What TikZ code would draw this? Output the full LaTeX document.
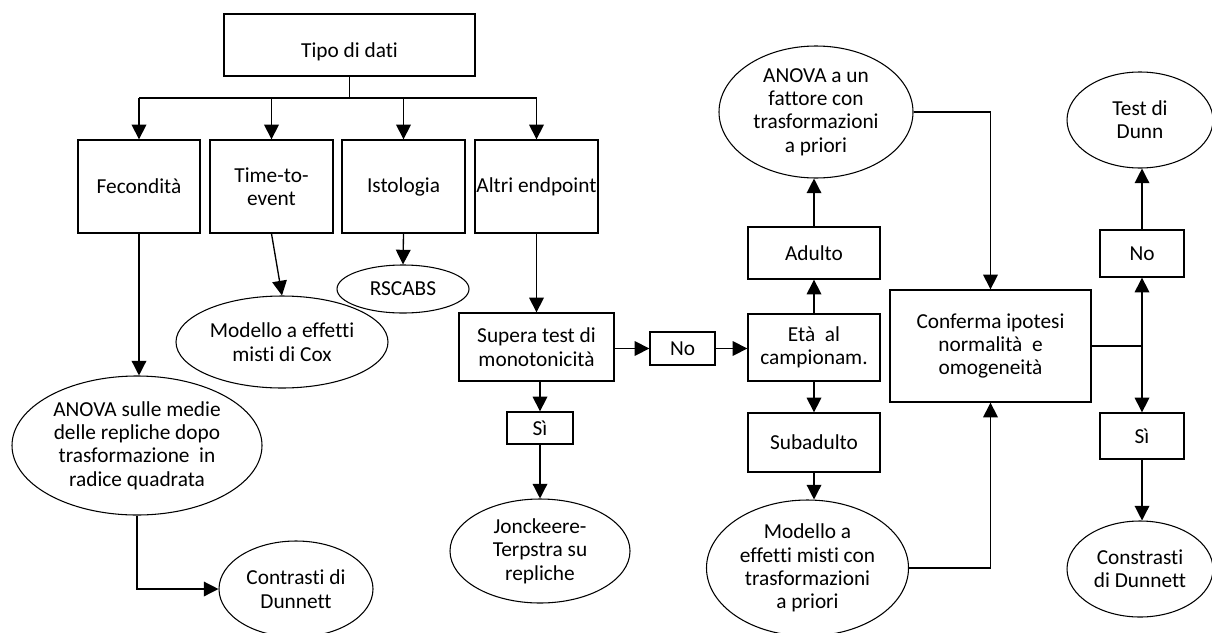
\documentclass[tikz,border=0pt]{standalone}
\usepackage{fontspec}
\setmainfont{Carlito}[Ligatures={NoCommon}]
\usetikzlibrary{arrows.meta,shapes.geometric}
\begin{document}
\begin{tikzpicture}[x=0.75pt,y=-0.75pt,
  every node/.style={font=\fontsize{16}{17.5}\selectfont, align=center, inner sep=0pt},
  sz/.style 2 args={minimum width=#1*0.75pt, minimum height=#2*0.75pt},
  box/.style={draw, line width=1pt, rectangle},
  oval/.style={draw, line width=0.8pt, ellipse},
  arr/.style={line width=1pt, -{Triangle[length=11pt,width=11pt]}},
  ln/.style={line width=1pt}]
\useasboundingbox (0,0) rectangle (1212,632);
% boxes
\node (tipo) [box, sz={251}{62}] at (349.5,45) {\raisebox{-5.25pt}[\height][\depth]{Tipo di dati}};
\node (fec)  [box, sz={122}{93}] at (139,186.5) {Fecondità};
\node (time) [box, sz={123}{93}] at (271.5,186.5) {Time-to-\\event};
\node (isto) [box, sz={123}{93}] at (403.5,186.5) {Istologia};
\node (alt)  [box, sz={123}{93}] at (536.5,186.5) {Altri endpoint};
\node (sup)  [box, sz={155}{68}] at (536.5,347) {Supera test di\\monotonicità};
\node (si1)  [box, sz={66}{32}] at (540,428) {Sì};
\node (no1)  [box, sz={65}{33}] at (682.5,348.5) {No};
\node (eta)  [box, sz={132}{67}] at (814,347.5) {Età \ al\\campionam.};
\node (adu)  [box, sz={132}{52}] at (814,253) {Adulto};
\node (sub)  [box, sz={132}{59}] at (814,442.5) {Subadulto};
\node (conf) [box, sz={201}{112}] at (990.5,346) {Conferma ipotesi\\normalità \ e\\omogeneità};
\node (no2)  [box, sz={84}{47}] at (1142,253.5) {No};
\node (si2)  [box, sz={84}{46}] at (1142,436) {Sì};
% ellipses
\node (anova1) [oval, sz={250}{139}] at (137,445.5) {ANOVA sulle medie\\delle repliche dopo\\trasformazione \ in\\radice quadrata};
\node (contr1) [oval, sz={154}{96}] at (296,589) {Contrasti di\\Dunnett};
\node (cox)    [oval, sz={212}{92}] at (282,342) {Modello a effetti\\misti di Cox};
\node (rscabs) [oval, sz={132}{48}] at (403,289) {RSCABS};
\node (jon)    [oval, sz={180}{104}] at (540,551) {Jonckeere-\\Terpstra su\\repliche};
\node (anova2) [oval, sz={194}{132}] at (816,112) {ANOVA a un\\fattore con\\trasformazioni\\a priori};
\node (mod2)   [oval, sz={202}{136}] at (807.5,568) {Modello a\\effetti misti con\\trasformazioni\\a priori};
\node (dunn)   [oval, sz={146}{96}] at (1140,120) {Test di\\Dunn};
\node (constr) [oval, sz={146}{96}] at (1140,569) {Constrasti\\di Dunnett};
% connectors
\coordinate (bus) at (349.5,98);
\draw[ln] (tipo.south) -- (bus);
\draw[ln] (fec.north |- bus) -- (alt.north |- bus);
\draw[arr] (fec.north |- bus) -- (fec.north);
\draw[arr] (time.north |- bus) -- (time.north);
\draw[arr] (isto.north |- bus) -- (isto.north);
\draw[arr] (alt.north |- bus) -- (alt.north);
\draw[arr] (fec.south) -- (fec.south |- anova1.north);
\draw[arr] (anova1.south) |- (contr1.west);
\draw[arr] (time.south) -- (cox.north);
\draw[arr] (isto.south) -- (rscabs.north);
\draw[arr] (alt.south) -- (sup.north);
\draw[arr] (si1.north |- sup.south) -- (si1.north);
\draw[arr] (si1.south) -- (jon.north);
\draw[arr] (no1.west -| sup.east) -- (no1.west);
\draw[arr] (no1.east) -- (eta.west |- no1.east);
\draw[arr] (eta.north) -- (adu.south);
\draw[arr] (adu.north) -- (adu.north |- anova2.south);
\draw[arr] (anova2.east) -| (conf.north);
\draw[arr] (eta.south) -- (sub.north);
\draw[arr] (sub.south) -- (sub.south |- mod2.north);
\draw[arr] (mod2.east) -| (conf.south);
\coordinate (j) at (no2.south |- conf.east);
\draw[ln] (conf.east) -- (j);
\draw[arr] (j) -- (no2.south);
\draw[arr] (j) -- (si2.north);
\draw[arr] (no2.north) -- (no2.north |- dunn.south);
\draw[arr] (si2.south) -- (si2.south |- constr.north);
\end{tikzpicture}
\end{document}
